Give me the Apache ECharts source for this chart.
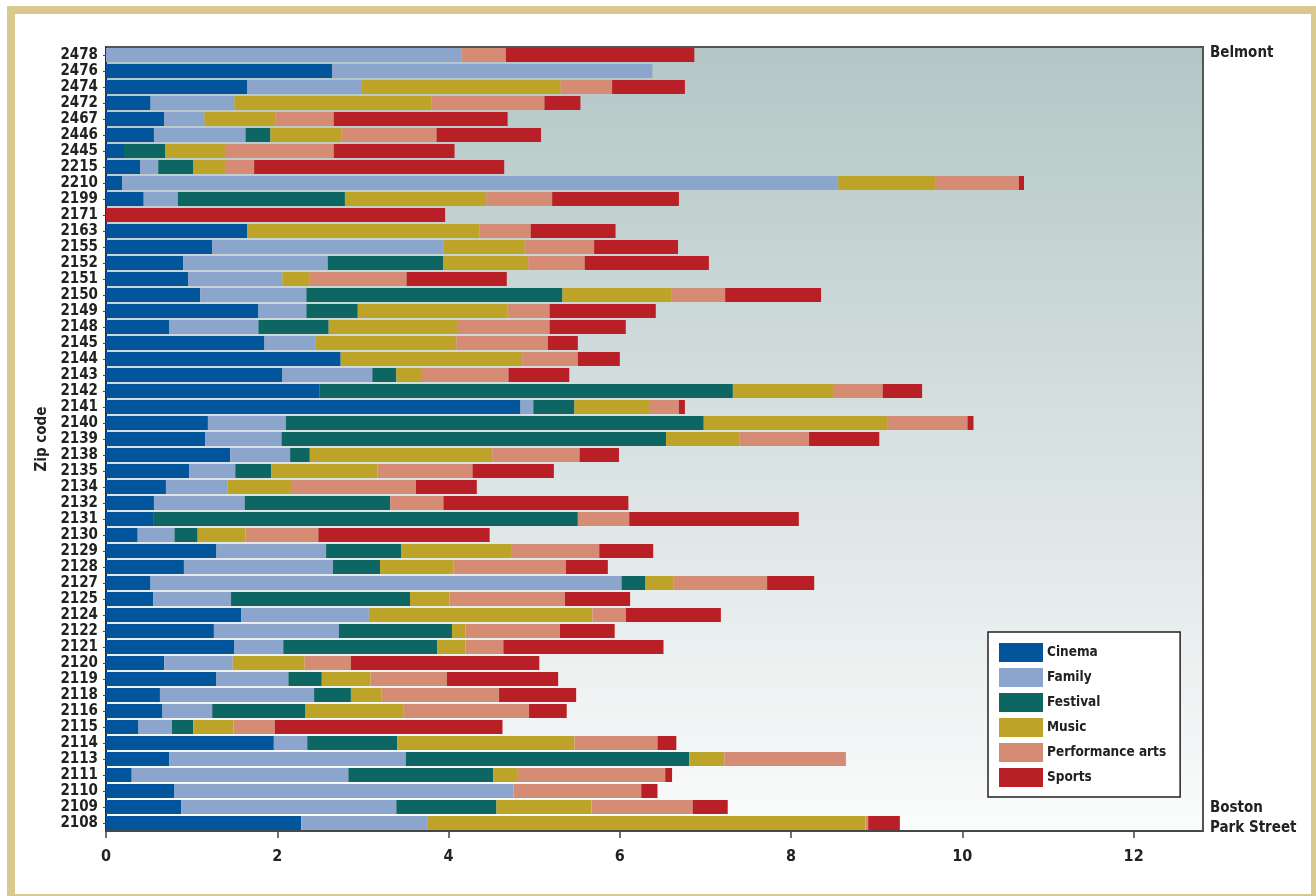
<!DOCTYPE html>
<html>
<head>
<meta charset="utf-8">
<script src="https://cdn.jsdelivr.net/npm/echarts@6/dist/echarts.min.js"></script>
<style>
html,body{margin:0;padding:0;background:#fff;overflow:hidden;}
#frame{position:absolute;left:7px;top:6px;width:1296px;height:880px;border:8px solid #d9c98d;}
#chart{position:absolute;left:0;top:0;width:1316px;height:896px;}
</style>
</head>
<body>
<div id="frame"></div>
<div id="chart"></div>
<script>
const categories = ["2478","2476","2474","2472","2467","2446","2445","2215","2210","2199","2171","2163","2155","2152","2151","2150","2149","2148","2145","2144","2143","2142","2141","2140","2139","2138","2135","2134","2132","2131","2130","2129","2128","2127","2125","2124","2122","2121","2120","2119","2118","2116","2115","2114","2113","2111","2110","2109","2108"];
const cinema = [0,2.64,1.65,0.52,0.68,0.56,0.21,0.40,0.19,0.44,0,1.65,1.24,0.90,0.96,1.10,1.78,0.74,1.85,2.74,2.06,2.49,4.84,1.19,1.16,1.45,0.97,0.70,0.56,0.55,0.37,1.29,0.91,0.52,0.55,1.58,1.26,1.50,0.68,1.29,0.63,0.66,0.38,1.96,0.74,0.30,0.80,0.88,2.28];
const family = [4.15,3.74,1.33,0.98,0.47,1.07,0,0.21,8.36,0.40,0,0,2.70,1.69,1.10,1.24,0.56,1.04,0.60,0,1.05,0,0.15,0.91,0.89,0.70,0.54,0.72,1.06,0,0.43,1.28,1.74,5.50,0.91,1.49,1.46,0.57,0.80,0.84,1.80,0.58,0.39,0.39,2.76,2.53,3.96,2.51,1.47];
const festival = [0,0,0,0,0,0.29,0.48,0.41,0,1.95,0,0,0,1.35,0,2.99,0.60,0.82,0,0,0.28,4.83,0.48,4.88,4.49,0.23,0.42,0,1.70,4.96,0.27,0.88,0.55,0.28,2.09,0,1.32,1.80,0,0.39,0.43,1.09,0.25,1.05,3.31,1.69,0,1.17,0];
const music = [0,0,2.33,2.30,0.83,0.83,0.70,0.37,1.14,1.65,0,2.71,0.95,0.99,0.32,1.27,1.75,1.51,1.64,2.12,0.30,1.18,0.87,2.15,0.86,2.13,1.24,0.74,0,0,0.56,1.28,0.86,0.33,0.46,2.61,0.16,0.33,0.84,0.57,0.36,1.14,0.47,2.07,0.41,0.28,0,1.11,5.12];
const performance = [0.52,0,0.60,1.32,0.68,1.11,1.27,0.34,0.97,0.77,0,0.60,0.81,0.66,1.13,0.63,0.49,1.07,1.07,0.65,1.01,0.57,0.35,0.93,0.81,1.02,1.11,1.46,0.62,0.60,0.85,1.03,1.31,1.09,1.35,0.39,1.10,0.44,0.54,0.89,1.37,1.47,0.48,0.97,1.42,1.73,1.49,1.18,0.03];
const sports = [2.20,0,0.85,0.42,2.03,1.22,1.41,2.92,0.06,1.48,3.96,0.99,0.98,1.45,1.17,1.12,1.24,0.89,0.35,0.49,0.71,0.46,0.07,0.07,0.82,0.46,0.95,0.71,2.16,1.98,2.00,0.63,0.49,0.55,0.76,1.11,0.64,1.87,2.20,1.30,0.90,0.44,2.66,0.22,0,0.08,0.19,0.41,0.37];
const seriesNames = ["Cinema","Family","Festival","Music","Performance arts","Sports"];
const seriesData = [cinema,family,festival,music,performance,sports];
const colors = ["#02559a","#8ca5cd","#0d6662","#bda428","#d68b75","#b81f26"];
const xTicks = [0,2,4,6,8,10,12];

const FONT = "'DejaVu Sans Condensed', 'Liberation Sans Narrow', sans-serif";
const chart = echarts.init(document.getElementById('chart'), null, {renderer:'canvas'});
const series = seriesNames.map((n,i)=>({
  name:n, type:'bar', stack:'total', data:seriesData[i], barWidth:14,
  itemStyle:{color:colors[i]}, emphasis:{disabled:true}, animation:false
}));
chart.setOption({
  animation:false,
  textStyle:{fontFamily:FONT},
  grid:{left:106,right:113,top:47,bottom:65,show:true,borderColor:'#555',borderWidth:2,
    backgroundColor:new echarts.graphic.LinearGradient(0,0,0,1,[{offset:0,color:'#b3c6c5'},{offset:1,color:'#fbfcfc'}])},
  xAxis:{type:'value',min:0,max:12.81,interval:2,
    axisLine:{show:true,lineStyle:{color:'#444',width:1.5}},
    axisTick:{show:true,length:7,lineStyle:{color:'#444',width:1.5},
      customValues:xTicks},
    axisLabel:{customValues:xTicks,color:'#222',fontWeight:'bold',fontSize:16,margin:18,fontFamily:FONT},
    splitLine:{show:false}},
  yAxis:{type:'category',data:categories,inverse:true,
    name:'Zip code',nameLocation:'middle',nameGap:50,nameRotate:90,
    nameTextStyle:{color:'#222',fontWeight:'bold',fontSize:15,fontFamily:FONT},
    axisLine:{show:true,lineStyle:{color:'#222',width:1.5}},
    axisTick:{show:true,length:3,alignWithLabel:true,interval:0,lineStyle:{color:'#444'}},
    axisLabel:{interval:0,color:'#222',fontWeight:'bold',fontSize:15,margin:8,fontFamily:FONT}},
  legend:{orient:'vertical',left:988,top:632,width:183,height:167,
    padding:[11,14,10,11],itemWidth:44,itemHeight:19,itemGap:6,
    backgroundColor:'#fff',borderColor:'#222',borderWidth:1.5,
    icon:'rect',selectedMode:false,
    textStyle:{color:'#222',fontWeight:'bold',fontSize:13.5,fontFamily:FONT,padding:[0,0,0,-1]},
    data:seriesNames},
  graphic:[
    {type:'text',left:1210,top:46,style:{text:'Belmont',fill:'#222',font:"bold 15px "+FONT}},
    {type:'text',left:1210,top:798,style:{text:'Boston\nPark Street',fill:'#222',font:"bold 15px "+FONT,lineHeight:20}}
  ],
  series:series
});
</script>
</body>
</html>
